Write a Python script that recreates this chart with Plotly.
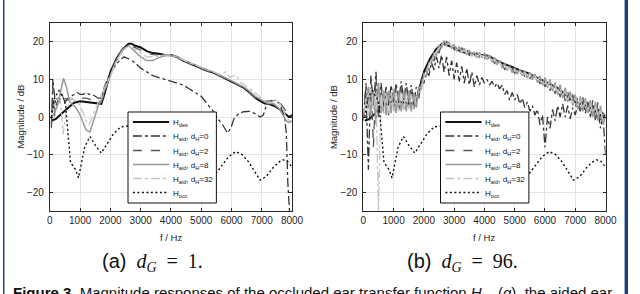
import numpy as np
import plotly.graph_objects as go

# ---------------- data ----------------
# shared curves (independent of d_G)
f_des = [50, 200, 400, 600, 800, 1000, 1200, 1400, 1600, 1700, 1800, 2000, 2200, 2400, 2600, 2700, 2800,
         3000, 3200, 3400, 3600, 3800, 4000, 4200, 4400, 4600, 4800, 5000, 5200, 5400, 5600, 5800, 6000,
         6200, 6400, 6600, 6800, 7000, 7100, 7200, 7400, 7600, 7800, 7900, 8000]
h_des = [-1, -0.5, 1, 2.5, 3.8, 4.2, 4, 3.8, 3.5, 3.5, 6, 12, 15.5, 18, 19.5, 19.5, 19,
         18.5, 17.5, 17, 16.8, 16.5, 16.5, 16, 15, 14.3, 13.5, 13, 12.3, 11.8, 11, 10.3, 9.5,
         8.7, 7.8, 6.5, 5, 4, 3.6, 3.5, 3, 2, 0.5, 0, 0.5]

f_occ = [50, 150, 300, 450, 520, 600, 680, 760, 850, 946, 1050, 1150, 1323, 1500, 1699, 1900, 2100,
         2344, 2600, 2800, 3000, 3500, 4000, 4500, 5000, 5300, 5494, 5700, 5900, 6140, 6350, 6550,
         6750, 6946, 7150, 7400, 7600, 7700, 7850, 7968]
h_occ = [0, 5, 7, 5, 3, -4, -12, -13, -14, -16.2, -12, -8, -5.2, -7.5, -9.6, -7, -4.5,
         -2.6, -2.3, -2.2, -2.4, -4, -6, -9, -12, -14, -14.9, -12.8, -10.6, -9.2, -10, -11.8,
         -14.5, -16.8, -15.8, -13.2, -11.8, -11.4, -11.8, -13]

# panel (a): d_G = 1
fa_0 = [50, 100, 150, 200, 300, 400, 500, 600, 700, 800, 900, 1000, 1100, 1200, 1300, 1400, 1500, 1600,
        1700, 1800, 1900, 2000, 2100, 2200, 2300, 2450, 2600, 2800, 3000, 3200, 3400, 3600, 3800, 4000,
        4200, 4400, 4600, 4800, 5000, 5150, 5300, 5450, 5550, 5700, 5870, 5980, 6090, 6250, 6400,
        6600, 6800, 6950, 7050, 7160, 7300, 7450, 7600, 7750, 7810, 7860, 7914, 7950]
ha_0 = [-2, 10, 6, 3, 5, 6, 4, 5, 5.5, 6, 6.5, 6, 6, 6.5, 6, 6, 5.5, 5,
        5, 8, 10, 11.5, 13, 14, 15, 16, 15.5, 14.5, 13, 12, 11, 10.5, 10, 9.6,
        9, 8.5, 7.5, 6.5, 5.5, 4, 2.5, 1, -0.5, -2, -4.3, -2.9, -0.3, 1, 1.4,
        1.5, 0.8, 0, 0.5, 3.2, 4, 4.5, 3.5, 0.1, -4.3, -17.5, -24.8, -27]

fa_2 = [50, 100, 150, 200, 300, 400, 500, 600, 800, 1000, 1200, 1400, 1600, 1700, 1800, 2000, 2200,
        2400, 2600, 2800, 3000, 3200, 3400, 3600, 3800, 4000, 4200, 4400, 4600, 4800, 5000, 5200,
        5400, 5600, 5800, 6000, 6200, 6400, 6600, 6800, 7000, 7200, 7400, 7600, 7800, 7900, 8000]
ha_2 = [-3, 8, 0, 5, 4, 6, 5, 4.5, 5, 5, 5, 4.5, 4.5, 4, 6, 11.5, 15.5,
        18, 19.3, 18.5, 17.8, 17, 16.6, 16.5, 16.5, 16.4, 15.8, 15, 14.2, 13.4, 12.8, 12.2,
        11.6, 11, 10.2, 9.6, 8.6, 7.6, 6.3, 5, 4, 4.2, 4.5, 3.8, 1.5, 0.5, 0]

fa_8 = [50, 150, 250, 350, 450, 550, 650, 800, 900, 1000, 1100, 1200, 1323, 1400, 1500, 1600, 1700,
        1800, 2000, 2200, 2400, 2600, 2800, 3000, 3200, 3400, 3600, 3800, 4000, 4200, 4400, 4600,
        4800, 5000, 5200, 5400, 5600, 5800, 6000, 6200, 6400, 6600, 6800, 7000, 7200, 7400, 7600,
        7800, 7900, 8000]
ha_8 = [0, 1, 3, 7, 10.3, 8, 4, 3, 2, 0.5, -1.5, -3.5, -4, -2, 1, 3, 4.5,
        7, 11, 15, 17.8, 19, 17.5, 16, 15, 15, 15.8, 16.3, 16.3, 16, 15.2, 14.5,
        13.7, 13.2, 12.5, 12, 11.2, 10.6, 9.8, 9, 8, 6.8, 5.4, 4.5, 3.6, 3.5, 2,
        -1, -1.5, -1]

fa_32 = [50, 150, 250, 350, 441, 550, 700, 900, 1000, 1100, 1200, 1300, 1400, 1500, 1600, 1700, 2000,
         2200, 2400, 2600, 2800, 3000, 3200, 3400, 3600, 3800, 4000, 4200, 4400, 4600, 4800, 5000,
         5200, 5400, 5600, 5817, 5950, 6140, 6300, 6500, 6700, 6900, 7100, 7300, 7484, 7650, 7800,
         7900, 8000]
ha_32 = [0, 3, 5, 4, -4.5, 2, 5, 4, 3, 1, -1, -2, 0, 2, 4, 6, 11,
         15, 17.5, 19, 18, 17, 16, 16, 16.3, 16.5, 16.5, 16, 15.2, 14.5, 13.8, 13.2,
         12.5, 12, 11.3, 12, 10.5, 11.2, 9.2, 8.2, 7, 5.6, 4.3, 3.8, 4.5, 3, 0,
         -1, -1]

# panel (b): d_G = 96  (uniform frequency grid, 97 bins)
fb = np.linspace(0, 8000, 97)
hb_0 = [0, 8, -14, 11, 3, 12, 1, 9, 3, 8, 3, 8.5, 4, 9, 4, 9.5, 4.5, 9, 4, 8.5,
        3.5, 8, 6, 10, 9, 12, 11, 14.5, 12.5, 16, 13, 16.5, 12, 16, 11, 15, 10, 14.5,
        9.5, 13.5, 9, 13, 8.5, 12, 8, 11, 8.5, 10.5, 9, 10, 8.5, 9.5, 8, 9, 7.5,
        8.5, 6, 7, 4.5, 6.5, 4.5, 6, 3.5, 5, 2.5, 4, 1.5, 3, 0.5, 2, -2, 0.5,
        -8, 0, -3, 2, -1, 3, 0, 3.5, 0, 3, -0.5, 2.5, 0.5, 3.5, 1.5, 4.5, 1, 4,
        0, 3.5, -1, 2.5, -3, 0, -10]
hb_2 = [-1, 9, 2, 10, -8, 11, 0, 8, 1, 7.5, 0.5, 7.5, 1.5, 8, 1, 7.5, 2, 7.5, 1.5, 7,
        2, 6, 5, 10, 9, 13, 12.5, 15.5, 15, 18, 17, 19.5, 18.5, 20.2, 18.5, 19.5, 17.8, 19,
        17.2, 18.5, 16.8, 18, 16.3, 17.5, 16, 17, 15.9, 16.8, 15.6, 16.5, 15, 15.8, 14.2, 15, 13.4,
        14.2, 12.6, 13.4, 12, 12.8, 11.6, 12.5, 11.2, 12.1, 10.7, 11.7, 10.2, 11.2, 9.6, 10.7, 8.8, 10.2,
        8, 9.6, 7, 9, 6.2, 8.2, 5.3, 7.5, 4.2, 6.8, 3.5, 6, 2.5, 5.5, 1.8, 5.2, 1.2, 5,
        0.6, 4.5, -0.5, 4, -2, 2.5, -3]
hb_8 = [0, 4, 8, 1, 7, -2, 9, 1, 7, 0.5, 7, 1, 7.5, 1, 7, 1.5, 7, 1.5, 7, 1.5,
        6.5, 2.5, 8, 7.5, 11.5, 11, 14.5, 14.5, 17, 16.5, 19, 18.5, 20.3, 19, 20, 18.2, 19.3, 17.5,
        18.7, 17, 18.3, 16.5, 17.8, 16.2, 17.3, 15.8, 17.2, 15.8, 17, 15.3, 16.5, 14.6, 15.8, 13.9, 15,
        13.1, 14.2, 12.4, 13.5, 11.8, 13.1, 11.4, 12.7, 11, 12.3, 10.4, 11.9, 9.9, 11.4, 9.2, 11, 8.5,
        10.5, 7.8, 10, 6.8, 9.2, 5.9, 8.6, 5, 7.8, 4, 6.8, 3, 6, 2, 5.5, 1.5, 5, 1,
        4.5, 0, 4, -1, 3, -2, 0]
hb_32 = [1, 5, 0, 8, 2, 6, -25, 6, 1, 6.5, 1, 6.5, 1.5, 6.5, 1.5, 6.5, 2, 6.5, 2, 6,
         2.5, 5.5, 6.5, 8.5, 10.5, 12, 14, 15, 16.5, 17.5, 18.5, 19.2, 19.8, 19.6, 19.4, 18.8, 18.8, 18,
         18.2, 17.4, 17.6, 17, 17.2, 16.5, 16.8, 16.2, 16.6, 16.2, 16.4, 15.8, 15.9, 15.1, 15.2, 14.4, 14.5,
         13.6, 13.7, 12.9, 13, 12.3, 12.5, 11.9, 12.1, 11.5, 11.7, 11, 11.3, 10.5, 10.8, 9.9, 10.3, 9.2,
         9.8, 8.5, 9.2, 7.6, 8.4, 6.8, 7.6, 5.8, 6.8, 4.8, 5.8, 3.8, 5, 3, 4.5, 2.5, 4, 2,
         3.6, 1.2, 3, 0.3, 2, -1, -1.5]

x_ticks = [0, 1000, 2000, 3000, 4000, 5000, 6000, 7000, 8000]
y_ticks = [-20, -10, 0, 10, 20]

names = ["H<sub>des</sub>", "H<sub>aid</sub>, d<sub>H</sub>=0", "H<sub>aid</sub>, d<sub>H</sub>=2",
         "H<sub>aid</sub>, d<sub>H</sub>=8", "H<sub>aid</sub>, d<sub>H</sub>=32", "H<sub>occ</sub>"]

# ---------------- styles ----------------
styles = [
    dict(color="#111111", width=2.0, dash="solid"),
    dict(color="#333333", width=1.3, dash="dashdot"),
    dict(color="#555555", width=1.3, dash="dash"),
    dict(color="#999999", width=1.5, dash="solid"),
    dict(color="#c4c4c4", width=1.3, dash="dashdot"),
    dict(color="#111111", width=1.4, dash="2px,2.5px"),
]

W, H = 640, 294
def px_x(p): return p / W
def px_y(p): return 1 - p / H

fig = go.Figure()

panel_a = [(f_des, h_des), (fa_0, ha_0), (fa_2, ha_2), (fa_8, ha_8), (fa_32, ha_32), (f_occ, h_occ)]
panel_b = [(f_des, h_des), (fb, hb_0), (fb, hb_2), (fb, hb_8), (fb, hb_32), (f_occ, h_occ)]

for i, (xx, yy) in enumerate(panel_a):
    fig.add_trace(go.Scatter(x=xx, y=yy, mode="lines", name=names[i], line=styles[i],
                             xaxis="x", yaxis="y", showlegend=False))
for i, (xx, yy) in enumerate(panel_b):
    fig.add_trace(go.Scatter(x=xx, y=yy, mode="lines", name=names[i], line=styles[i],
                             xaxis="x2", yaxis="y2", showlegend=False))

tickfont = dict(family="Liberation Sans, Arial", size=10, color="#262626")
ax_common = dict(range=[0, 8000], tickvals=x_ticks, showgrid=True, gridcolor="#e3e3e3", gridwidth=1,
                 showline=True, linecolor="#262626", linewidth=1, mirror="ticks", ticks="inside",
                 ticklen=3, tickcolor="#262626", tickfont=tickfont, zeroline=False)
ay_common = dict(range=[-25, 25], tickvals=y_ticks, showgrid=True, gridcolor="#e3e3e3", gridwidth=1,
                 showline=True, linecolor="#262626", linewidth=1, mirror="ticks", ticks="inside",
                 ticklen=3, tickcolor="#262626", tickfont=tickfont, zeroline=False,
                 ticklabelstandoff=3)

fig.update_layout(
    width=W, height=H, margin=dict(l=0, r=0, t=0, b=0),
    paper_bgcolor="white", plot_bgcolor="white", showlegend=False,
    xaxis=dict(domain=[px_x(48), px_x(296)], anchor="y", **ax_common),
    yaxis=dict(domain=[px_y(211), px_y(23)], anchor="x", **ay_common),
    xaxis2=dict(domain=[px_x(369), px_x(617)], anchor="y2", **ax_common),
    yaxis2=dict(domain=[px_y(211), px_y(23)], anchor="x2", **ay_common),
)

lab_font = dict(family="Liberation Sans, Arial", size=9.5, color="#262626")
ann = []
shapes = []
for cx in (172, 493):
    ann.append(dict(text="f / Hz", x=px_x(cx), y=px_y(237), xref="paper", yref="paper",
                    showarrow=False, font=lab_font, xanchor="center", yanchor="middle"))
for lx in (17, 338):
    ann.append(dict(text="Magnitude / dB", x=px_x(lx), y=px_y(117), xref="paper", yref="paper",
                    showarrow=False, font=lab_font, textangle=-90, xanchor="center", yanchor="middle"))

# ---- legends (drawn as boxed key inside each panel) ----
leg_font = dict(family="Liberation Sans, Arial", size=8, color="#111111")
row_y = [122, 136, 150.5, 164.5, 178.5, 192.5]
for bx in (128, 448):
    shapes.append(dict(type="rect", xref="paper", yref="paper", x0=px_x(bx), x1=px_x(bx + 90.5),
                       y0=px_y(203), y1=px_y(112), fillcolor="white",
                       line=dict(color="#111111", width=1), layer="above"))
    for k in range(len(names)):
        st = styles[k]
        shapes.append(dict(type="line", xref="paper", yref="paper", x0=px_x(bx + 5), x1=px_x(bx + 42),
                           y0=px_y(row_y[k]), y1=px_y(row_y[k]), layer="above",
                           line=dict(color=st["color"], width=st["width"], dash=st["dash"])))
        ann.append(dict(text=names[k], x=px_x(bx + 44), y=px_y(row_y[k] + 1), xref="paper", yref="paper",
                        showarrow=False, font=leg_font, xanchor="left", yanchor="middle"))

cap_font = dict(family="Liberation Serif", size=20, color="#111111")
ann.append(dict(text='<span style="font-family:Liberation Sans">(a)</span>&nbsp; <i>d</i><sub><i>G</i></sub>&nbsp; =&nbsp; 1.',
                x=px_x(153), y=px_y(262), xref="paper", yref="paper", showarrow=False,
                font=cap_font, xanchor="center", yanchor="middle"))
ann.append(dict(text='<span style="font-family:Liberation Sans">(b)</span>&nbsp; <i>d</i><sub><i>G</i></sub>&nbsp; =&nbsp; 96.',
                x=px_x(471), y=px_y(262), xref="paper", yref="paper", showarrow=False,
                font=cap_font, xanchor="center", yanchor="middle"))
ann.append(dict(text="<b>Figure 3.</b> Magnitude responses of the occluded ear transfer function "
                     "<i>H</i><sub>occ</sub>(<i>q</i>), the aided ear",
                x=px_x(8), y=px_y(282), xref="paper", yref="paper", showarrow=False,
                font=dict(family="Liberation Sans, Arial", size=15, color="#111111"),
                xanchor="left", yanchor="top"))

shapes.append(dict(type="rect", xref="paper", yref="paper", x0=0, x1=px_x(1.5), y0=0, y1=1,
                   fillcolor="#1f3f7f", line=dict(width=0)))
shapes.append(dict(type="rect", xref="paper", yref="paper", x0=px_x(636.5), x1=1, y0=0, y1=1,
                   fillcolor="#1f3f7f", line=dict(width=0)))

fig.update_layout(annotations=ann, shapes=shapes)

fig.write_html("out.html", config={"displayModeBar": False},
               post_script="document.body.style.margin='0px';"
                           "document.body.style.overflow='hidden';"
                           "document.documentElement.style.overflow='hidden';")
